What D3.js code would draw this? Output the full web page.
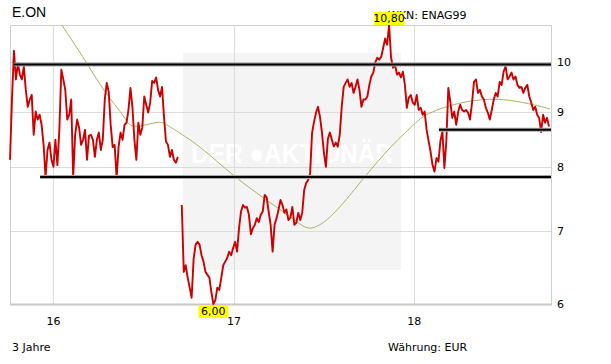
<!DOCTYPE html>
<html>
<head>
<meta charset="utf-8">
<script src="https://cdn.jsdelivr.net/npm/d3@7"></script>
<style>
body { margin: 0; background: #fff; }
text { font-family: "DejaVu Sans", Verdana, sans-serif; font-size: 11px; fill: #000; }
</style>
</head>
<body>
<script>
// price, one value every 4 days from priceStart (null = gap)
var priceStart = "2015-10-06", priceStepDays = 4;
var priceValues = [
  8.13, 9.23, 10.23, 9.63, 9.96, 9.73, 9.63, 9.90, 9.42, 9.09,
  9.23, 9.32, 8.57, 9.00, 8.85, 8.94, 8.75, 8.40, 7.84, 8.30,
  8.43, 8.13, 8.01, 8.48, 8.04, 8.66, 9.83, 9.63, 9.42, 8.85,
  8.94, 9.23, 7.84, 8.57, 8.85, 8.70, 8.39, 8.48, 8.66, 8.13,
  8.55, 8.57, 8.48, 8.18, 8.48, 8.61, 8.30, 8.48, 9.23, 9.56,
  9.38, 8.75, 8.35, 8.39, 7.82, 8.36, 8.61, 8.48, 8.75, 8.79,
  9.03, 9.46, 9.09, 8.48, 8.13, 8.79, 8.57, 8.70, 9.29, 9.13,
  8.98, 9.17, 9.60, 9.56, 9.67, 9.42, 9.29, 9.48, 8.90, 8.45,
  8.39, 8.18, 8.30, 8.13, 8.08, 8.18, null, 7.39, 6.42, 6.51,
  6.34, 6.21, 6.08, 6.60, 6.80, 6.84, 6.80, 6.65, 6.56, 6.42,
  6.38, 6.34, 6.15, 6.00, 6.05, 6.21, 6.18, 6.34, 6.51, 6.56,
  6.61, 6.70, 6.65, 6.75, 6.84, 6.70, 7.04, 7.29, 7.39, 7.35,
  7.36, 7.24, 6.95, 7.04, 7.09, 7.19, 7.13, 7.24, 7.29, 7.55,
  7.51, 7.29, 7.09, 6.70, 7.09, 7.19, 7.32, 7.47, 7.39, 7.27,
  7.32, 7.16, 7.20, 7.36, 7.09, 7.12, 7.27, 7.16, 7.27, 7.63,
  7.74, 7.79, 7.90, 8.61, 8.81, 8.98, 9.09, 8.90, 8.61, 8.25,
  8.01, 8.50, 8.61, 8.48, 8.36, 8.43, 8.36, 8.57, 9.09, 9.48,
  9.56, 9.63, 9.48, 9.56, 9.36, 9.48, 9.63, 9.42, 9.09, 9.23,
  9.23, 9.29, 9.52, 9.69, 9.77, 9.98, 10.08, 10.04, 10.10, 10.29,
  10.50, 10.36, 10.80, 10.08, 9.87, 9.93, 9.73, 9.77, 9.67, 9.79,
  9.52, 9.07, 9.27, 9.32, 9.17, 9.13, 9.32, 9.03, 9.07, 8.94,
  9.00, 8.66, 8.46, 8.27, 8.04, 7.93, 8.16, 8.10, 8.46, 8.63,
  7.99, 8.46, 9.46, 9.19, 8.88, 9.00, 8.75, 9.00, 9.13, 9.03,
  9.00, 9.03, 8.98, 8.85, 9.17, 9.58, 9.63, 9.36, 9.42, 9.29,
  9.23, 9.07, 8.98, 8.85, 9.03, 9.23, 9.36, 9.29, 9.58, 9.52,
  9.79, 9.90, 9.63, 9.69, 9.77, 9.63, 9.69, 9.52, 9.46, 9.48,
  9.36, 9.46, 9.52, 9.29, 9.17, 9.03, 9.09, 8.94, 8.88, 8.62,
  8.94, 8.79, 8.88, 8.72
];

// moving average
var maDates = ["2016-01-19", "2016-03-08", "2016-04-15", "2016-05-26", "2016-06-03",
  "2016-06-25", "2016-08-01", "2016-08-13", "2016-08-27", "2016-10-23", "2017-01-02",
  "2017-03-14", "2017-05-11", "2017-06-05", "2017-07-21", "2017-09-18", "2017-11-14",
  "2018-01-12", "2018-01-24", "2018-03-15", "2018-05-21", "2018-07-15", "2018-09-10",
  "2018-10-04"];
var maValues = [10.80, 10.00, 9.36, 8.90, 8.72,
  8.72, 8.81, 8.79, 8.70, 8.39, 7.84,
  7.44, 7.13, 6.98, 7.21, 7.79, 8.36,
  8.85, 8.94, 9.13, 9.25, 9.23, 9.11,
  9.05];

// support / resistance lines
var levelValues = [9.94, 7.84, 8.66];
var levelStarts = ["2015-10-14", "2015-12-06", "2018-02-21"];

var yTicks = [6, 7, 8, 9, 10];
var xTicks = ["2016-01-01", "2017-01-01", "2018-01-01"];
var domainStart = "2015-10-06", domainEnd = "2018-10-06";

var W = 611, H = 364,
    pLeft = 10, pRight = 551, pTop = 25, pBottom = 304;

var parse = d3.utcParse("%Y-%m-%d");
var de = d3.formatLocale({decimal: ",", thousands: ".", grouping: [3], currency: ["", " €"]});
var fmt = de.format(".2f");

var svg = d3.select("body").append("svg")
    .attr("width", W)
    .attr("height", H);

var x = d3.scaleUtc()
    .domain([parse(domainStart), parse(domainEnd)])
    .range([pLeft, pRight]);
var y = d3.scaleLog()
    .domain([6, 10.8])
    .range([pBottom, pTop]);

var t0 = parse(priceStart);
var price = priceValues.map(function(v, i) {
  return {date: d3.utcDay.offset(t0, i * priceStepDays), v: v};
});
var ma = maDates.map(function(d, i) { return {date: parse(d), v: maValues[i]}; });

/* watermark */
svg.append("rect")
    .attr("x", 183).attr("y", 53)
    .attr("width", 218).attr("height", 217)
    .attr("fill", "#f4f4f4");
svg.append("text")
    .attr("x", 191).attr("y", 163)
    .attr("textLength", 202)
    .attr("lengthAdjust", "spacingAndGlyphs")
    .style("font-family", "'Liberation Sans', Arial, sans-serif")
    .style("font-weight", "bold")
    .style("font-size", "27px")
    .style("fill", "#ffffff")
    .text("DER \u25CFAKTIONÄR");

/* grid */
svg.append("g").selectAll("line").data(yTicks.slice(1))
  .enter().append("line")
    .attr("x1", pLeft).attr("x2", pRight)
    .attr("y1", function(d) { return Math.round(y(d)) + 0.5; })
    .attr("y2", function(d) { return Math.round(y(d)) + 0.5; })
    .attr("stroke", "#dcdcdc");
svg.append("g").selectAll("line").data(xTicks)
  .enter().append("line")
    .attr("x1", function(d) { return Math.round(x(parse(d))) + 0.5; })
    .attr("x2", function(d) { return Math.round(x(parse(d))) + 0.5; })
    .attr("y1", pTop).attr("y2", pBottom)
    .attr("stroke", "#dcdcdc");

// frame
svg.append("path")
    .attr("d", "M" + (pLeft + 0.5) + "," + pBottom + "V" + (pTop + 0.5) + "H" + (pRight + 0.5) + "V" + pBottom)
    .attr("fill", "none")
    .attr("stroke", "#cfcfcf");
svg.append("line")
    .attr("x1", pLeft).attr("x2", pRight + 1)
    .attr("y1", pBottom + 0.5).attr("y2", pBottom + 0.5)
    .attr("stroke", "#c8c8c8")
    .attr("stroke-width", 2);

/* axes */
var yAxis = d3.axisRight(y)
    .tickValues(yTicks)
    .tickFormat(d3.format("d"))
    .tickSize(0)
    .tickPadding(6);
svg.append("g")
    .attr("transform", "translate(" + pRight + ",0)")
    .call(yAxis)
    .call(function(g) { g.select(".domain").remove(); })
    .selectAll("text").style("font-family", "'DejaVu Sans', sans-serif").style("font-size", "11px");

var xAxis = d3.axisBottom(x)
    .tickValues(xTicks.map(parse))
    .tickFormat(d3.utcFormat("%y"))
    .tickSize(0)
    .tickPadding(13);
svg.append("g")
    .attr("transform", "translate(0," + pBottom + ")")
    .call(xAxis)
    .call(function(g) { g.select(".domain").remove(); })
    .selectAll("text").style("font-family", "'DejaVu Sans', sans-serif").style("font-size", "11px");

/* lines */
svg.append("clipPath").attr("id", "plot")
  .append("rect").attr("x", pLeft).attr("y", pTop).attr("width", pRight - pLeft).attr("height", pBottom - pTop);

var line = d3.line()
    .defined(function(d) { return d.v != null; })
    .x(function(d) { return x(d.date); })
    .y(function(d) { return y(d.v); });

svg.append("path")
    .datum(ma)
    .attr("clip-path", "url(#plot)")
    .attr("fill", "none")
    .attr("stroke", "#a9b45e")
    .attr("stroke-width", 1)
    .attr("d", line.curve(d3.curveBasis));

svg.append("path")
    .datum(price)
    .attr("fill", "none")
    .attr("stroke", "#cc0000")
    .attr("stroke-width", 1.9)
    .attr("stroke-linejoin", "round")
    .attr("d", line.curve(d3.curveLinear));

var levels = svg.append("g").selectAll("g").data(levelValues)
  .enter().append("g");
levels.append("line")
    .attr("x1", function(d, i) { return x(parse(levelStarts[i])); })
    .attr("x2", pRight)
    .attr("y1", function(d) { return y(d); })
    .attr("y2", function(d) { return y(d); })
    .attr("stroke", "#a8a8a8")
    .attr("stroke-width", 4);
levels.append("line")
    .attr("x1", function(d, i) { return x(parse(levelStarts[i])); })
    .attr("x2", pRight)
    .attr("y1", function(d) { return y(d); })
    .attr("y2", function(d) { return y(d); })
    .attr("stroke", "#000")
    .attr("stroke-width", 2);

/* texts */
svg.append("text")
    .attr("x", 12).attr("y", 17)
    .style("font-family", "'Liberation Sans', Arial, sans-serif")
    .style("font-size", "14px")
    .text("E.ON");
svg.append("text")
    .attr("x", 388).attr("y", 19)
    .text("WKN: ENAG99");
svg.append("text")
    .attr("x", 12).attr("y", 351)
    .text("3 Jahre");
svg.append("text")
    .attr("x", 388).attr("y", 351)
    .text("Währung: EUR");

// high / low labels
var valid = price.filter(function(d) { return d.v != null; });
var hi = valid[d3.maxIndex(valid, function(d) { return d.v; })];
var lo = valid[d3.minIndex(valid, function(d) { return d.v; })];

function marker(d, above) {
  var cx = x(d.date), w = 30, h = 13;
  var yy = above ? y(d.v) - h : y(d.v) + 1;
  svg.append("rect")
      .attr("x", cx - w / 2).attr("y", yy)
      .attr("width", w).attr("height", h)
      .attr("fill", "#ffff00");
  svg.append("text")
      .attr("x", cx).attr("y", yy + 10)
      .attr("text-anchor", "middle")
      .text(fmt(d.v));
}
marker(hi, true);
marker(lo, false);
</script>
</body>
</html>
